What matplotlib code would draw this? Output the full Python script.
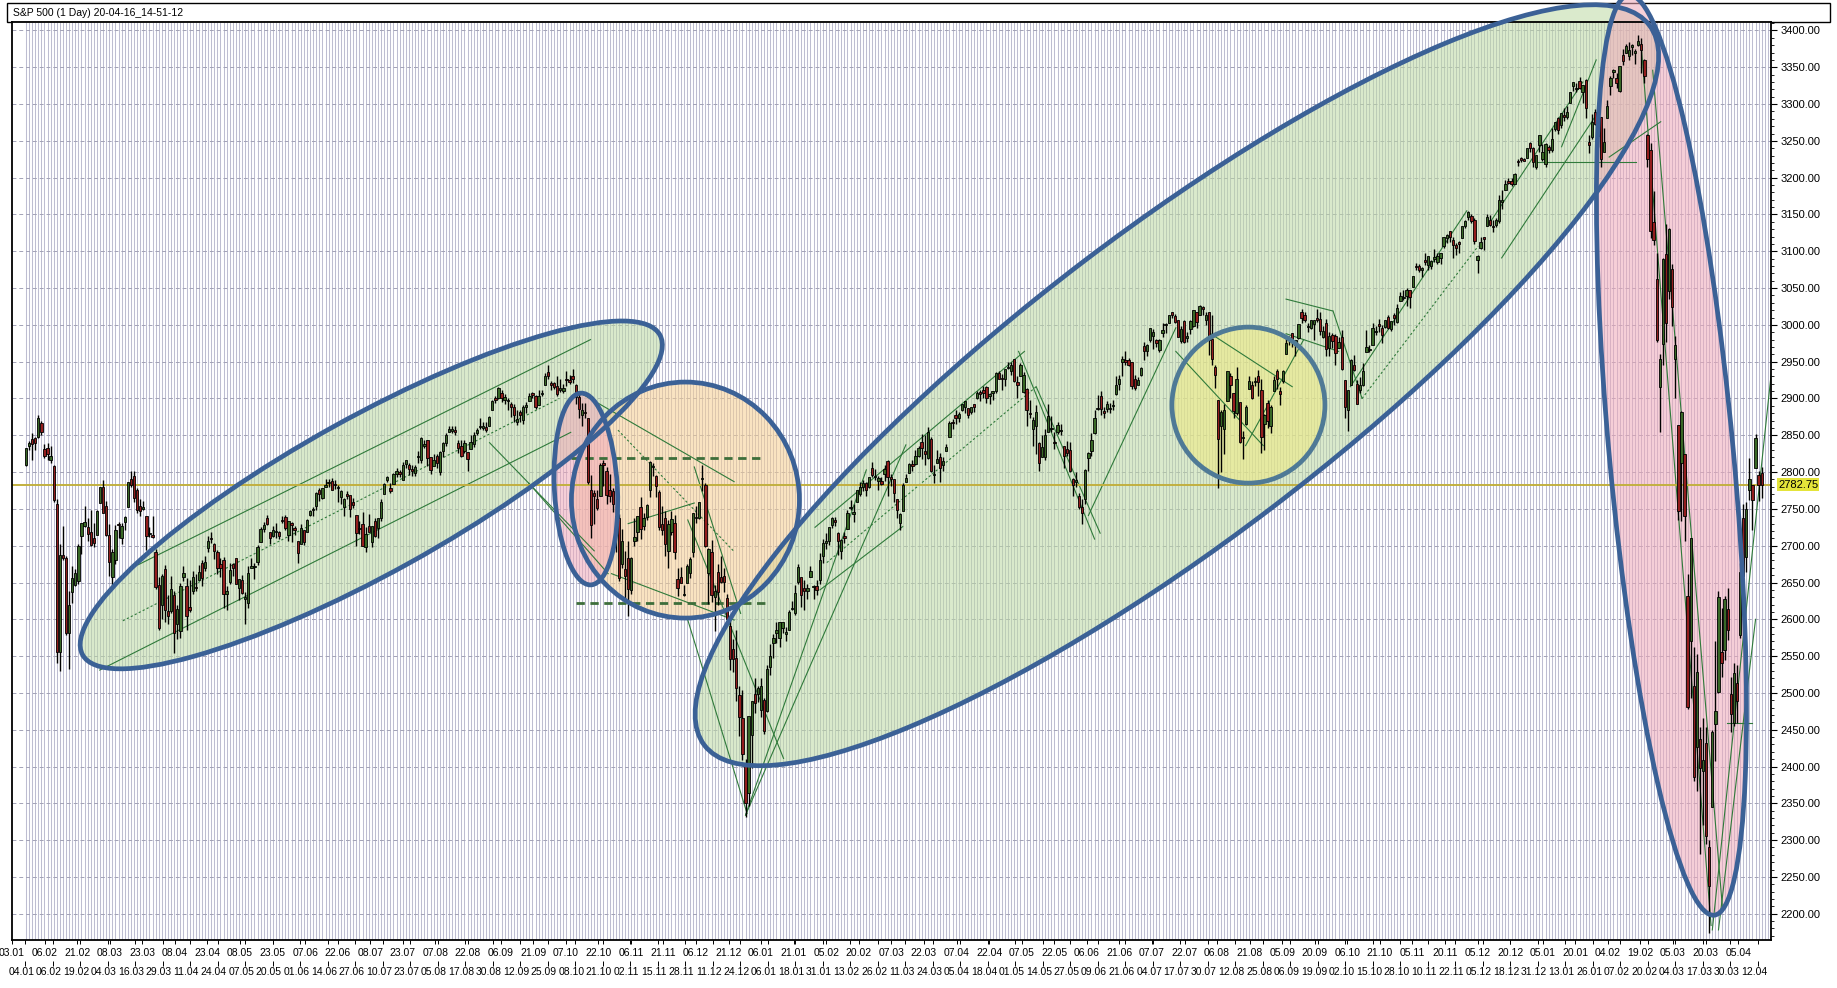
import numpy as np
import matplotlib
matplotlib.use("Agg")
import matplotlib.pyplot as plt
from matplotlib.patches import Ellipse, Rectangle
from matplotlib.ticker import MultipleLocator
from matplotlib.transforms import IdentityTransform, blended_transform_factory

# ============================
# Daily candles, 22.01.2018 - 16.04.2020 (one row per month)
# ============================
opens = [
    2809, 2835, 2845, 2846, 2848, 2867, 2832, 2833,
    2816, 2808, 2757, 2555, 2688, 2683, 2582, 2637, 2646, 2652, 2713, 2727, 2725, 2718, 2711, 2715, 2758, 2780, 2754,
    2715, 2658, 2681, 2730, 2711, 2732, 2752, 2791, 2795, 2775, 2754, 2750, 2741, 2716, 2715, 2691, 2647, 2620, 2668, 2611, 2611,
    2633, 2593, 2584, 2657, 2645, 2617, 2638, 2644, 2653, 2676, 2670, 2697, 2710, 2702, 2692, 2675, 2680, 2635, 2651, 2675, 2683,
    2643, 2654, 2628, 2622, 2670, 2671, 2678, 2705, 2723, 2738, 2719, 2713, 2719, 2718, 2735, 2739, 2714, 2731, 2724, 2706, 2702, 2721,
    2719, 2742, 2749, 2754, 2775, 2765, 2780, 2785, 2788, 2784, 2778, 2766, 2752, 2770, 2769, 2760, 2742, 2723, 2729, 2698, 2727,
    2705, 2733, 2724, 2737, 2770, 2789, 2779, 2784, 2797, 2800, 2789, 2811, 2809, 2804, 2799, 2820, 2817, 2836, 2843, 2820, 2808,
    2822, 2800, 2829, 2840, 2855, 2856, 2857, 2839, 2835, 2828, 2827, 2831, 2838, 2853, 2861, 2860, 2861, 2862, 2885, 2901, 2901, 2908, 2898,
    2897, 2892, 2888, 2868, 2882, 2871, 2889, 2897, 2907, 2904, 2891, 2906, 2919, 2936, 2921, 2921, 2917, 2911, 2910,
    2926, 2924, 2931, 2919, 2902, 2877, 2882, 2873, 2776, 2771, 2764, 2768, 2812, 2802, 2776, 2774, 2722, 2737, 2675, 2668, 2683, 2640, 2706,
    2718, 2753, 2727, 2739, 2775, 2807, 2795, 2773, 2730, 2738, 2693, 2718, 2731, 2655, 2657, 2633, 2650, 2663, 2691, 2737, 2737,
    2790, 2782, 2663, 2691, 2630, 2664, 2658, 2659, 2629, 2591, 2559, 2548, 2497, 2466, 2401, 2364, 2443, 2499, 2499,
    2477, 2491, 2475, 2535, 2568, 2581, 2574, 2588, 2580, 2585, 2614, 2609, 2651, 2657, 2643, 2639, 2657, 2644, 2645, 2653, 2686,
    2703, 2707, 2728, 2735, 2717, 2693, 2713, 2723, 2751, 2743, 2760, 2770, 2780, 2785, 2780, 2805, 2793, 2788, 2788,
    2798, 2815, 2794, 2790, 2763, 2731, 2747, 2786, 2799, 2811, 2811, 2822, 2841, 2828, 2819, 2845, 2796, 2813, 2820, 2810, 2828,
    2848, 2868, 2877, 2874, 2885, 2888, 2887, 2881, 2892, 2901, 2909, 2912, 2916, 2904, 2908, 2910, 2935, 2928, 2926, 2941, 2937,
    2953, 2922, 2930, 2909, 2913, 2880, 2859, 2863, 2840, 2821, 2821, 2855, 2859, 2841, 2855, 2856, 2836, 2832, 2830, 2790, 2786, 2767,
    2752, 2763, 2819, 2829, 2853, 2886, 2903, 2883, 2886, 2886, 2890, 2906, 2920, 2950, 2952, 2952, 2949, 2926, 2919, 2932,
    2971, 2965, 2979, 2985, 2980, 2966, 2989, 3000, 3003, 3018, 3012, 3006, 2978, 3005, 2982, 2994, 2999, 3017, 3013, 3024, 3007, 3017,
    2981, 2943, 2898, 2862, 2858, 2897, 2930, 2907, 2880, 2895, 2846, 2865, 2913, 2919, 2922, 2930, 2912, 2866, 2894, 2862, 2910, 2938,
    2910, 2924, 2960, 2980, 2989, 2972, 2982, 3018, 3013, 2997, 2996, 3001, 3010, 3008, 2983, 3002, 2969, 2986, 2985, 2968,
    2984, 2925, 2885, 2919, 2945, 2920, 2911, 2918, 2963, 2966, 2973, 2990, 3001, 2996, 2997, 3011, 2994, 3014, 3004, 3033, 3036, 3039, 3047,
    3051, 3079, 3080, 3075, 3088, 3082, 3080, 3089, 3085, 3091, 3107, 3118, 3128, 3115, 3109, 3112, 3118, 3135, 3146, 3148,
    3143, 3088, 3104, 3120, 3134, 3142, 3135, 3136, 3141, 3167, 3183, 3195, 3195, 3192, 3223, 3227, 3226, 3227, 3247, 3240, 3215,
    3245, 3226, 3218, 3242, 3238, 3266, 3281, 3271, 3285, 3283, 3302, 3324, 3321, 3331, 3316, 3333, 3248, 3255, 3289, 3256, 3282,
    3235, 3281, 3325, 3344, 3335, 3318, 3366, 3370, 3365, 3378, 3370, 3380, 3381, 3360, 3258, 3238, 3140, 3063, 2916,
    2974, 3096, 3046, 3076, 2954, 2864, 2813, 2825, 2631, 2570, 2509, 2426, 2437, 2394, 2432, 2291, 2345, 2458, 2501, 2556, 2558, 2614,
    2499, 2459, 2514, 2578, 2738, 2685, 2776, 2782, 2806, 2796, 2799,
]
highs = [
    2833, 2842, 2853, 2848, 2878, 2870, 2838, 2840,
    2836, 2809, 2763, 2702, 2727, 2686, 2639, 2672, 2669, 2702, 2731, 2754, 2737, 2748, 2731, 2748, 2780, 2789, 2761,
    2730, 2696, 2728, 2732, 2731, 2741, 2787, 2802, 2801, 2778, 2763, 2761, 2741, 2725, 2740, 2695, 2657, 2661, 2674, 2633, 2659,
    2638, 2619, 2650, 2673, 2656, 2653, 2666, 2662, 2674, 2680, 2686, 2713, 2718, 2704, 2694, 2683, 2684, 2645, 2676, 2677, 2683,
    2655, 2660, 2637, 2673, 2683, 2676, 2701, 2726, 2732, 2742, 2719, 2727, 2731, 2720, 2740, 2742, 2733, 2732, 2727, 2706, 2729, 2722,
    2736, 2749, 2753, 2773, 2779, 2779, 2791, 2790, 2792, 2789, 2783, 2775, 2765, 2774, 2769, 2765, 2742, 2733, 2746, 2725, 2743,
    2727, 2737, 2737, 2764, 2785, 2795, 2785, 2799, 2805, 2803, 2814, 2816, 2812, 2809, 2809, 2829, 2848, 2843, 2843, 2821, 2824,
    2825, 2829, 2841, 2853, 2863, 2862, 2862, 2843, 2843, 2843, 2827, 2850, 2855, 2860, 2873, 2868, 2868, 2876, 2898, 2904, 2916, 2912, 2906,
    2900, 2895, 2893, 2884, 2884, 2891, 2895, 2907, 2909, 2905, 2912, 2912, 2935, 2946, 2924, 2923, 2931, 2927, 2920,
    2938, 2932, 2940, 2920, 2910, 2894, 2894, 2874, 2796, 2776, 2776, 2813, 2816, 2807, 2797, 2779, 2754, 2743, 2723, 2693, 2707, 2685, 2737,
    2741, 2766, 2745, 2757, 2815, 2812, 2796, 2776, 2754, 2747, 2735, 2747, 2742, 2670, 2671, 2647, 2675, 2685, 2744, 2754, 2760,
    2810, 2785, 2697, 2708, 2647, 2675, 2686, 2670, 2635, 2601, 2573, 2586, 2510, 2504, 2410, 2467, 2489, 2520, 2510,
    2520, 2493, 2538, 2566, 2580, 2596, 2597, 2597, 2589, 2613, 2625, 2646, 2675, 2658, 2653, 2648, 2673, 2647, 2653, 2690, 2709,
    2717, 2725, 2739, 2739, 2719, 2709, 2718, 2749, 2762, 2757, 2775, 2787, 2789, 2786, 2793, 2814, 2804, 2795, 2794,
    2809, 2816, 2797, 2790, 2764, 2745, 2785, 2798, 2813, 2816, 2830, 2836, 2852, 2850, 2861, 2847, 2809, 2830, 2826, 2820, 2838,
    2869, 2872, 2885, 2881, 2893, 2896, 2887, 2889, 2893, 2910, 2912, 2917, 2917, 2908, 2910, 2936, 2937, 2933, 2940, 2950, 2949,
    2954, 2931, 2948, 2936, 2914, 2898, 2875, 2891, 2841, 2851, 2858, 2892, 2876, 2854, 2868, 2865, 2836, 2842, 2841, 2792, 2800, 2772,
    2763, 2804, 2827, 2853, 2884, 2905, 2910, 2888, 2896, 2894, 2898, 2930, 2932, 2958, 2965, 2955, 2950, 2932, 2929, 2943,
    2977, 2974, 2996, 2994, 2981, 2981, 3002, 3003, 3014, 3018, 3015, 3006, 2999, 3007, 2990, 3006, 3020, 3017, 3027, 3025, 3017, 3017,
    3013, 2946, 2898, 2885, 2892, 2938, 2935, 2908, 2943, 2895, 2856, 2891, 2931, 2924, 2929, 2939, 2927, 2879, 2898, 2891, 2930, 2940,
    2915, 2939, 2985, 2985, 2989, 2980, 3001, 3021, 3017, 3003, 3007, 3007, 3022, 3017, 2999, 3008, 2990, 2989, 2988, 2984,
    2993, 2925, 2911, 2953, 2959, 2925, 2929, 2948, 2993, 2972, 3003, 2998, 3008, 3000, 3007, 3014, 3005, 3016, 3028, 3044, 3047, 3050, 3047,
    3067, 3084, 3083, 3079, 3098, 3094, 3088, 3103, 3098, 3098, 3120, 3124, 3128, 3119, 3111, 3114, 3134, 3142, 3155, 3150,
    3145, 3095, 3119, 3120, 3150, 3149, 3143, 3145, 3176, 3183, 3197, 3199, 3199, 3206, 3226, 3228, 3227, 3240, 3248, 3241, 3231,
    3258, 3246, 3247, 3245, 3268, 3275, 3283, 3288, 3294, 3298, 3317, 3330, 3329, 3337, 3326, 3334, 3258, 3286, 3293, 3286, 3283,
    3268, 3306, 3338, 3348, 3342, 3352, 3375, 3381, 3385, 3381, 3375, 3394, 3390, 3361, 3259, 3247, 3182, 3098, 2960,
    3091, 3137, 3131, 3083, 2985, 2864, 2883, 2825, 2661, 2711, 2563, 2553, 2454, 2466, 2454, 2300, 2450, 2571, 2638, 2616, 2631, 2642,
    2522, 2540, 2538, 2677, 2756, 2760, 2819, 2782, 2852, 2801, 2807,
]
lows = [
    2808, 2830, 2817, 2830, 2846, 2851, 2819, 2816,
    2813, 2759, 2540, 2530, 2680, 2578, 2532, 2622, 2645, 2648, 2689, 2725, 2706, 2700, 2698, 2714, 2758, 2744, 2713,
    2659, 2647, 2675, 2711, 2702, 2721, 2752, 2780, 2759, 2745, 2741, 2748, 2694, 2712, 2711, 2641, 2585, 2601, 2597, 2593, 2609,
    2554, 2573, 2574, 2652, 2586, 2610, 2635, 2639, 2653, 2645, 2665, 2692, 2703, 2682, 2661, 2657, 2615, 2613, 2648, 2659, 2648,
    2626, 2635, 2594, 2615, 2670, 2655, 2674, 2705, 2718, 2728, 2702, 2712, 2711, 2709, 2731, 2721, 2707, 2705, 2714, 2676, 2702, 2701,
    2719, 2740, 2740, 2749, 2761, 2764, 2780, 2780, 2775, 2777, 2760, 2757, 2740, 2763, 2739, 2751, 2699, 2716, 2699, 2692, 2718,
    2698, 2712, 2711, 2733, 2770, 2786, 2771, 2784, 2793, 2793, 2789, 2806, 2796, 2795, 2795, 2812, 2812, 2833, 2808, 2798, 2808,
    2805, 2796, 2821, 2835, 2855, 2853, 2851, 2826, 2820, 2826, 2802, 2831, 2834, 2850, 2858, 2857, 2854, 2862, 2885, 2894, 2899, 2895, 2893,
    2885, 2875, 2868, 2864, 2868, 2866, 2880, 2896, 2900, 2886, 2891, 2903, 2919, 2927, 2912, 2913, 2903, 2909, 2908,
    2917, 2920, 2921, 2893, 2874, 2863, 2874, 2784, 2711, 2729, 2749, 2768, 2781, 2756, 2760, 2746, 2692, 2652, 2670, 2628, 2604, 2635, 2700,
    2706, 2709, 2722, 2735, 2766, 2795, 2766, 2722, 2714, 2686, 2670, 2715, 2682, 2631, 2649, 2631, 2650, 2656, 2685, 2731, 2736,
    2774, 2698, 2621, 2624, 2584, 2620, 2650, 2637, 2593, 2531, 2528, 2489, 2441, 2409, 2331, 2346, 2398, 2473, 2488,
    2467, 2444, 2474, 2525, 2547, 2568, 2563, 2581, 2570, 2585, 2612, 2606, 2648, 2617, 2612, 2628, 2657, 2628, 2633, 2648, 2677,
    2696, 2701, 2724, 2727, 2687, 2682, 2704, 2723, 2748, 2732, 2760, 2767, 2774, 2767, 2779, 2794, 2789, 2776, 2782,
    2788, 2768, 2781, 2760, 2738, 2722, 2747, 2786, 2799, 2801, 2810, 2821, 2818, 2810, 2818, 2800, 2785, 2812, 2787, 2801, 2828,
    2848, 2859, 2866, 2868, 2883, 2880, 2873, 2879, 2881, 2899, 2896, 2901, 2894, 2892, 2898, 2908, 2926, 2912, 2917, 2940, 2932,
    2923, 2901, 2930, 2908, 2862, 2874, 2836, 2825, 2801, 2821, 2816, 2855, 2855, 2832, 2852, 2851, 2806, 2822, 2800, 2767, 2780, 2750,
    2729, 2756, 2801, 2822, 2852, 2885, 2878, 2874, 2882, 2880, 2885, 2905, 2911, 2931, 2946, 2944, 2913, 2912, 2918, 2930,
    2952, 2958, 2977, 2967, 2970, 2963, 2984, 2989, 3002, 3010, 3002, 2984, 2975, 2976, 2977, 2988, 2997, 2996, 3013, 3014, 3000, 2959,
    2946, 2914, 2778, 2800, 2825, 2897, 2900, 2873, 2877, 2840, 2818, 2864, 2913, 2899, 2917, 2904, 2826, 2830, 2860, 2853, 2910, 2913,
    2891, 2921, 2960, 2973, 2970, 2958, 2981, 3003, 3004, 2990, 2994, 2979, 3004, 2986, 2982, 2958, 2958, 2969, 2946, 2968,
    2939, 2874, 2856, 2918, 2937, 2892, 2907, 2917, 2963, 2963, 2973, 2986, 2991, 2976, 2996, 2995, 2992, 3000, 3002, 3032, 3034, 3026, 3023,
    3051, 3075, 3072, 3065, 3081, 3074, 3076, 3085, 3083, 3083, 3105, 3111, 3113, 3091, 3095, 3098, 3118, 3131, 3143, 3139,
    3110, 3070, 3103, 3102, 3134, 3135, 3126, 3133, 3138, 3158, 3183, 3191, 3189, 3192, 3216, 3221, 3222, 3227, 3235, 3215, 3212,
    3235, 3223, 3215, 3233, 3235, 3264, 3260, 3268, 3277, 3280, 3302, 3318, 3316, 3321, 3301, 3281, 3234, 3253, 3272, 3242, 3215,
    3235, 3281, 3313, 3335, 3322, 3317, 3353, 3369, 3360, 3367, 3355, 3379, 3342, 3328, 3214, 3118, 3109, 2977, 2855,
    2946, 2977, 3035, 2999, 2901, 2735, 2734, 2707, 2478, 2493, 2380, 2367, 2281, 2320, 2295, 2174, 2345, 2407, 2500, 2521, 2545, 2572,
    2447, 2455, 2459, 2574, 2657, 2664, 2762, 2721, 2805, 2761, 2765,
]
closes = [
    2833, 2839, 2838, 2839, 2873, 2854, 2822, 2824,
    2822, 2762, 2555, 2688, 2683, 2582, 2620, 2656, 2663, 2699, 2731, 2732, 2716, 2701, 2704, 2747, 2780, 2744, 2714,
    2678, 2691, 2721, 2728, 2727, 2739, 2787, 2783, 2765, 2749, 2747, 2752, 2713, 2717, 2712, 2644, 2588, 2659, 2613, 2605, 2641,
    2582, 2614, 2645, 2663, 2604, 2613, 2657, 2642, 2664, 2656, 2678, 2706, 2709, 2693, 2670, 2670, 2635, 2639, 2667, 2670, 2648,
    2655, 2636, 2630, 2663, 2673, 2672, 2698, 2723, 2728, 2730, 2711, 2722, 2720, 2713, 2733, 2724, 2733, 2728, 2721, 2690, 2724, 2705,
    2735, 2747, 2749, 2772, 2770, 2779, 2782, 2787, 2776, 2782, 2780, 2774, 2763, 2767, 2750, 2755, 2717, 2723, 2700, 2716, 2718,
    2727, 2713, 2737, 2760, 2784, 2794, 2774, 2798, 2801, 2798, 2810, 2816, 2804, 2802, 2807, 2820, 2846, 2837, 2819, 2803, 2816,
    2813, 2827, 2840, 2850, 2858, 2858, 2854, 2833, 2822, 2840, 2818, 2841, 2850, 2857, 2863, 2862, 2857, 2875, 2897, 2898, 2914, 2901, 2902,
    2897, 2889, 2878, 2872, 2877, 2888, 2889, 2904, 2905, 2889, 2904, 2908, 2931, 2930, 2919, 2916, 2906, 2914, 2914,
    2925, 2923, 2926, 2902, 2886, 2884, 2880, 2786, 2728, 2767, 2751, 2810, 2809, 2769, 2768, 2756, 2741, 2656, 2706, 2659, 2641, 2683, 2712,
    2740, 2723, 2738, 2755, 2814, 2807, 2781, 2726, 2722, 2702, 2730, 2736, 2691, 2642, 2650, 2633, 2673, 2682, 2744, 2738, 2760,
    2790, 2700, 2696, 2633, 2638, 2637, 2651, 2651, 2600, 2546, 2546, 2507, 2467, 2417, 2351, 2468, 2489, 2486, 2507,
    2510, 2448, 2532, 2550, 2574, 2585, 2597, 2596, 2583, 2610, 2616, 2636, 2671, 2633, 2639, 2642, 2665, 2644, 2640, 2681, 2704,
    2707, 2725, 2738, 2732, 2706, 2708, 2710, 2745, 2753, 2746, 2776, 2780, 2785, 2775, 2793, 2796, 2794, 2792, 2784,
    2804, 2793, 2790, 2771, 2749, 2743, 2783, 2792, 2811, 2808, 2822, 2833, 2833, 2824, 2855, 2801, 2798, 2818, 2805, 2815, 2834,
    2867, 2867, 2873, 2879, 2893, 2896, 2878, 2888, 2888, 2907, 2906, 2907, 2900, 2905, 2908, 2934, 2927, 2926, 2940, 2943, 2946,
    2924, 2918, 2946, 2932, 2884, 2879, 2871, 2881, 2812, 2834, 2851, 2876, 2860, 2840, 2864, 2856, 2822, 2826, 2802, 2783, 2789, 2752,
    2744, 2803, 2826, 2843, 2873, 2887, 2886, 2880, 2892, 2887, 2890, 2918, 2926, 2954, 2950, 2945, 2917, 2914, 2925, 2942,
    2964, 2973, 2996, 2990, 2976, 2980, 2993, 3000, 3014, 3014, 3004, 2984, 2995, 2977, 2985, 3005, 3020, 3004, 3026, 3021, 3013, 2980,
    2954, 2932, 2845, 2882, 2884, 2938, 2919, 2883, 2926, 2841, 2848, 2889, 2924, 2901, 2924, 2923, 2847, 2878, 2869, 2888, 2925, 2926,
    2906, 2938, 2976, 2979, 2978, 2979, 3001, 3010, 3007, 2998, 3006, 3007, 3007, 2992, 2992, 2967, 2985, 2978, 2962, 2977,
    2940, 2888, 2911, 2952, 2939, 2893, 2919, 2938, 2970, 2966, 2996, 2990, 2998, 2986, 3007, 2996, 3005, 3010, 3023, 3039, 3037, 3047, 3038,
    3067, 3078, 3075, 3077, 3085, 3093, 3087, 3092, 3094, 3097, 3120, 3122, 3120, 3108, 3104, 3110, 3134, 3141, 3154, 3141,
    3114, 3093, 3113, 3117, 3146, 3136, 3133, 3142, 3169, 3169, 3191, 3193, 3191, 3205, 3221, 3224, 3223, 3240, 3240, 3221, 3231,
    3258, 3235, 3246, 3237, 3253, 3275, 3265, 3288, 3283, 3289, 3317, 3330, 3321, 3322, 3326, 3295, 3244, 3276, 3273, 3284, 3226,
    3249, 3298, 3335, 3346, 3328, 3352, 3358, 3379, 3374, 3380, 3370, 3386, 3373, 3338, 3226, 3128, 3116, 2979, 2954,
    3090, 3003, 3130, 3024, 2972, 2747, 2882, 2741, 2481, 2711, 2386, 2529, 2398, 2409, 2305, 2237, 2447, 2476, 2630, 2541, 2627, 2585,
    2471, 2527, 2489, 2664, 2659, 2750, 2790, 2762, 2846, 2783, 2783,
]

last_price = 2782.75
title_text = "S&P 500 (1 Day) 20-04-16_14-51-12"
price_ticks = list(range(2200, 3401, 50))

upper_labels = ["03.01", "06.02", "21.02", "08.03", "23.03", "08.04", "23.04", "08.05", "23.05", "07.06",
                "22.06", "08.07", "23.07", "07.08", "22.08", "06.09", "21.09", "07.10", "22.10", "06.11",
                "21.11", "06.12", "21.12", "06.01", "21.01", "05.02", "20.02", "07.03", "22.03", "07.04",
                "22.04", "07.05", "22.05", "06.06", "21.06", "07.07", "22.07", "06.08", "21.08", "05.09",
                "20.09", "06.10", "21.10", "05.11", "20.11", "05.12", "20.12", "05.01", "20.01", "04.02",
                "19.02", "05.03", "20.03", "05.04"]
lower_labels = ["04.01", "06.02", "19.02", "04.03", "16.03", "29.03", "11.04", "24.04", "07.05", "20.05",
                "01.06", "14.06", "27.06", "10.07", "23.07", "05.08", "17.08", "30.08", "12.09", "25.09",
                "08.10", "21.10", "02.11", "15.11", "28.11", "11.12", "24.12", "06.01", "18.01", "31.01",
                "13.02", "26.02", "11.03", "24.03", "05.04", "18.04", "01.05", "14.05", "27.05", "09.06",
                "21.06", "04.07", "17.07", "30.07", "12.08", "25.08", "06.09", "19.09", "02.10", "15.10",
                "28.10", "10.11", "22.11", "05.12", "18.12", "31.12", "13.01", "26.01", "07.02", "20.02",
                "04.03", "17.03", "30.03", "12.04"]

# hand-drawn ellipses: centre at (candle index, price), size in screen pixels
ell_cx = [115, 374, 216, 184, 397, 533]
ell_cy = [2769, 2918, 2762, 2777, 2891, 2823]
ell_w = [660, 1188, 228, 192, 153, 924]
ell_h = [156, 310, 236, 63, 156, 124]
ell_ang = [29, 37.3, 0, 93, 0, 95.3]
ell_face = ["#bcdaa2", "#bcdaa2", "#f6cf90", "#f0a8b8", "#f0ea80", "#f0a8b8"]
ell_edge = ["#3b6196", "#3b6196", "#3b6196", "#3b6196", "#4f7a96", "#3b6196"]

# trend lines: (candle index, price) -> (candle index, price)
trend_x0 = [23.9, 36.3, 31.4, 150.1, 178.9, 191.7, 162.8, 216.4, 189.6, 195.0,
            233.0, 233.0, 214.3, 214.3, 257.1, 255.5, 259.3, 321.4, 327.1, 344.0,
            372.3, 383.6, 394.9, 408.0, 408.0, 423.2, 428.8, 432.6, 474.0, 477.8,
            489.0, 512.6, 497.2, 523.0, 526.7, 546.0, 548.0, 550.9]
trend_y0 = [2531, 2674, 2598, 2840, 2909, 2857, 2785, 2807, 2662, 2730,
            2334, 2334, 2735, 2599, 2640, 2725, 2677, 2964, 2916, 2741,
            2964, 2988, 2836, 3035, 2988, 3019, 2916, 2900, 3139, 3091,
            3221, 3228, 3242, 3378, 3346, 2178, 2178, 2459]
trend_x1 = [176.4, 182.8, 172.7, 184.0, 229.3, 229.3, 188.5, 231.4, 229.3, 216.4,
            284.9, 272.1, 245.3, 233.5, 283.9, 323.3, 327.1, 346.0, 347.8, 372.3,
            400.6, 410.0, 413.7, 423.0, 425.0, 432.6, 466.5, 470.2, 504.1, 507.9,
            521.3, 529.3, 508.4, 545.6, 549.3, 565.3, 560.0, 558.9]
trend_y1 = [2854, 2980, 2900, 2693, 2787, 2692, 2662, 2608, 2599, 2758,
            2837, 2803, 2411, 2336, 2726, 2964, 2916, 2709, 2717, 2996,
            2836, 2916, 2980, 3019, 2964, 2900, 3155, 3107, 3330, 3282,
            3221, 3276, 3360, 2184, 2207, 2943, 2600, 2459]
trend_dotted = [False, False, True, False, False, True, False, False, False, False,
                False, False, False, False, False, False, True, False, False, False,
                False, False, False, False, False, False, False, True, False, False,
                False, False, False, False, False, False, False, False]
# dashed support / resistance levels inside the orange circle
level_price = [2819, 2622]
level_from = [176.6, 178.0]
level_to = [237.7, 240.0]

# ============================
# Figure
# ============================
W, H, DPI = 1837, 988, 100
plt.rcParams["font.family"] = ["Liberation Sans", "DejaVu Sans"]
NARROW = ["Liberation Sans Narrow", "Liberation Sans", "DejaVu Sans"]

fig = plt.figure(figsize=(W / DPI, H / DPI), dpi=DPI)
fig.patch.set_facecolor("white")
ax = fig.add_axes([12 / W, 1 - 940 / H, 1759 / W, 918 / H])
XMIN, XMAX = -0.5, 565.0
YMIN, YMAX = 2164.3, 3411.5
ax.set_xlim(XMIN, XMAX)
ax.set_ylim(YMIN, YMAX)
ax.set_facecolor("white")

n = min(len(opens), len(highs), len(lows), len(closes))
o = np.array(opens[:n], float)
h = np.array(highs[:n], float)
l = np.array(lows[:n], float)
c = np.array(closes[:n], float)
xi = np.arange(n)

# per-candle vertical grid and dashed price grid
ax.vlines(np.arange(0, int(XMAX) + 1), YMIN, YMAX, color="#bdbdd1", lw=0.75, zorder=0.5)
for p in price_ticks:
    ax.axhline(p, color="#a2a2b6", lw=0.7, ls=(0, (4, 3)), zorder=0.6)

# ellipse fills (under the candles)
for cx, cy, w, hh, a, fc in zip(ell_cx, ell_cy, ell_w, ell_h, ell_ang, ell_face):
    px, py = ax.transData.transform((cx, cy))
    e = Ellipse((px, py), w, hh, angle=a, transform=IdentityTransform(),
                facecolor=fc, alpha=0.55, edgecolor="none", zorder=1)
    e.set_clip_on(False)
    ax.add_patch(e)

# trend lines
for x0, y0, x1, y1, dot in zip(trend_x0, trend_y0, trend_x1, trend_y1, trend_dotted):
    ax.plot([x0, x1], [y0, y1], color="#2f7a3a", lw=0.8,
            ls=(0, (2, 2)) if dot else "-", zorder=2)
for p, a, b in zip(level_price, level_from, level_to):
    ax.plot([a, b], [p, p], color="#3d6e3a", lw=2.0, ls=(0, (3, 2)), zorder=2)

# last price line
ax.axhline(last_price, color="#c2b040", lw=1.4, zorder=2.2)

# candles
up = c >= o
ax.vlines(xi, l, h, color="black", lw=1.0, zorder=3)
ax.bar(xi, np.maximum(np.abs(c - o), 1.5), bottom=np.minimum(o, c), width=0.76,
       color=np.where(up, "#386826", "#931d1d"), edgecolor="black", linewidth=0.6, zorder=3.1)

# ellipse outlines on top
for cx, cy, w, hh, a, ec in zip(ell_cx, ell_cy, ell_w, ell_h, ell_ang, ell_edge):
    px, py = ax.transData.transform((cx, cy))
    e = Ellipse((px, py), w, hh, angle=a, transform=IdentityTransform(),
                facecolor="none", edgecolor=ec, lw=3.4, zorder=5)
    e.set_clip_on(False)
    ax.add_patch(e)

# right price axis
ax.yaxis.tick_right()
ax.set_yticks(price_ticks)
ax.set_yticklabels([f"{v:.2f}" for v in price_ticks])
ax.yaxis.set_minor_locator(MultipleLocator(10))
ax.tick_params(axis="y", which="major", length=4, width=0.8, pad=3, labelsize=8, colors="black")
ax.tick_params(axis="y", which="minor", length=2, width=0.6)

ax.text(1.004, last_price, f"{last_price:.2f}", transform=blended_transform_factory(ax.transAxes, ax.transData),
        ha="left", va="center", fontsize=8,
        bbox=dict(boxstyle="square,pad=0.12", facecolor="#e4e43a", edgecolor="none"), zorder=6)

# bottom date axis: two rows of labels
px_per_bar = 1759 / (XMAX - XMIN)
upper_pos = [(-7 / px_per_bar) - 2.25 + i * (32.8 / px_per_bar) for i in range(len(upper_labels))]
lower_pos = [(0.7 / px_per_bar) - 0.5 + i * (27.7 / px_per_bar) for i in range(len(lower_labels))]
ax.set_xticks(upper_pos)
ax.set_xticklabels(upper_labels, fontfamily=NARROW)
ax.set_xticks(lower_pos, minor=True)
ax.tick_params(axis="x", which="major", length=3, width=0.7, pad=3, labelsize=7.5)
ax.tick_params(axis="x", which="minor", length=3, width=0.7)
bt = blended_transform_factory(ax.transData, ax.transAxes)
ax.vlines(lower_pos, -0.0285, -0.0225, color="black", lw=0.7, transform=bt, clip_on=False)
for x, lab in zip(lower_pos, lower_labels):
    ax.text(x - 1.2, -0.035, lab, transform=bt, ha="center", va="center",
            fontsize=7.5, fontfamily=NARROW, clip_on=False)

for s in ax.spines.values():
    s.set_color("black")
    s.set_linewidth(1.3)

# title bar
fig.add_artist(Rectangle((7 / W, 1 - 22 / H), (1830 - 7) / W, 19 / H, transform=fig.transFigure,
                         facecolor="white", edgecolor="black", lw=1.0, zorder=-1))
fig.text(13 / W, 1 - 12.5 / H, title_text, ha="left", va="center", fontsize=7.5)

fig.savefig("out.png", dpi=DPI, facecolor="white")
